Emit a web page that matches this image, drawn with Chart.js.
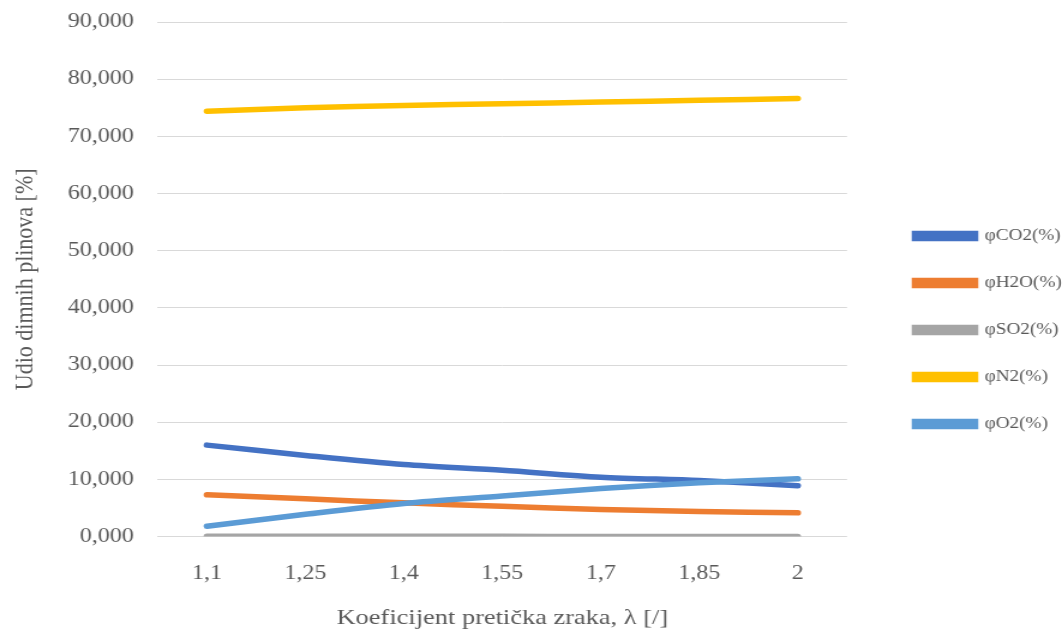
<!DOCTYPE html>
<html lang="hr">
<head>
  <meta charset="UTF-8">
  <title>Udio dimnih plinova</title>

  <!-- Chart.js -->
  <script src="https://cdn.jsdelivr.net/npm/chart.js"></script>

  <style>
    html, body {
      margin: 0;
      padding: 0;
      background: #ffffff;
      overflow: hidden;
    }

    /* the original picture is stretched 1.2x horizontally, so draw narrow and widen */
    #wrap {
      width: 887px;
      height: 631px;
      transform: scaleX(1.2);
      transform-origin: 0 0;
    }
  </style>
</head>

<body>
  <div id="wrap"><canvas id="chart"></canvas></div>

  <script>
    // Values
    const lambdas = ['1,1', '1,25', '1,4', '1,55', '1,7', '1,85', '2'];
    const co2 = [16.0, 14.2, 12.6, 11.6, 10.4, 9.8, 8.9];
    const h2o = [7.3, 6.6, 5.9, 5.3, 4.75, 4.4, 4.15];
    const so2 = [0.05, 0.05, 0.04, 0.04, 0.03, 0.03, 0.02];
    const n2 = [74.4, 75.0, 75.4, 75.7, 76.0, 76.3, 76.6];
    const o2 = [1.8, 3.9, 5.8, 7.1, 8.4, 9.4, 10.1];
    const seriesNames = ['φCO2(%)', 'φH2O(%)', 'φSO2(%)', 'φN2(%)', 'φO2(%)'];
    const seriesColors = ['#4472C4', '#ED7D31', '#A5A5A5', '#FFC000', '#5B9BD5'];
    const yMin = 0, yMax = 90, yStep = 10;

    const serif = "'Liberation Serif', 'Times New Roman', serif";
    const textColor = '#595959';

    function line(i, values) {
      return {
        label: seriesNames[i],
        data: values,
        borderColor: seriesColors[i],
        backgroundColor: seriesColors[i],
        borderWidth: 5.5,
        borderCapStyle: 'round',
        pointRadius: 0,
        tension: 0.3,
        fill: false,
        order: 5 - i // later series drawn on top, like the original
      };
    }

    new Chart(document.getElementById('chart'), {
      type: 'line',
      data: {
        labels: lambdas,
        datasets: [line(0, co2), line(1, h2o), line(2, so2), line(3, n2), line(4, o2)]
      },
      options: {
        responsive: true,
        maintainAspectRatio: false,
        animation: false,
        layout: { padding: { top: 22, left: 8, right: 0, bottom: 0 } },
        plugins: {
          tooltip: { enabled: false },
          legend: {
            position: 'right',
            maxWidth: 155.5,
            title: { display: true, text: ' ', font: { size: 6 }, padding: 0 },
            labels: {
              boxWidth: 50,
              boxHeight: 5,
              padding: 31,
              color: textColor,
              font: { family: serif, size: 16 },
              sort: (a, b) => a.datasetIndex - b.datasetIndex
            }
          }
        },
        scales: {
          x: {
            offset: true,
            grid: { display: false, drawTicks: false },
            border: { display: false },
            ticks: {
              color: textColor,
              font: { family: serif, size: 20 },
              padding: 25,
              maxRotation: 0
            },
            title: {
              display: true,
              text: 'Koeficijent pretička zraka, λ [/]',
              color: textColor,
              font: { family: serif, size: 22 },
              padding: { top: -6, bottom: 0 }
            }
          },
          y: {
            min: yMin,
            max: yMax,
            grid: { color: '#d9d9d9', lineWidth: 1, drawTicks: false },
            border: { display: false },
            ticks: {
              stepSize: yStep,
              color: textColor,
              font: { family: serif, size: 20 },
              padding: 20,
              callback: v => v.toFixed(3).replace('.', ',')
            },
            title: {
              display: true,
              text: 'Udio dimnih plinova [%]',
              color: textColor,
              font: { family: serif, size: 22 },
              padding: { top: 0, bottom: 2 }
            },
            // top label may hang over the plot edge, layout.padding.top sets the plot top
            afterFit: scale => { scale.paddingTop = 0; }
          },
          // empty right-hand axis, only keeps a gap between plot and legend
          gap: {
            type: 'linear',
            position: 'right',
            grid: { display: false },
            border: { display: false },
            ticks: { display: false },
            afterFit: scale => { scale.width = 25.7; }
          }
        }
      }
    });
  </script>
</body>

</html>
